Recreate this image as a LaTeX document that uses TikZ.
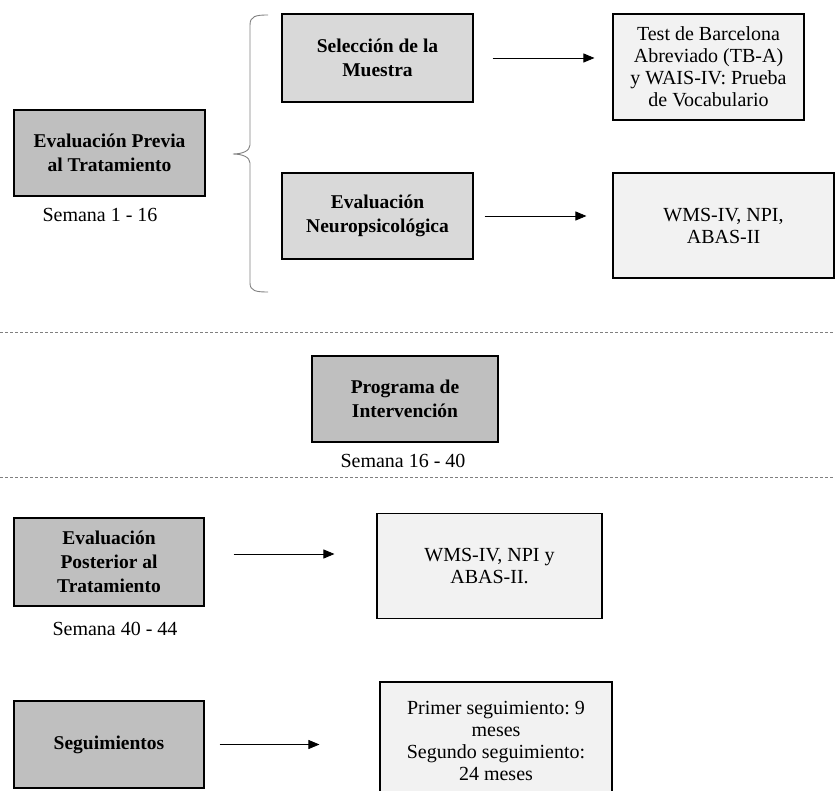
\documentclass[tikz,border=0pt]{standalone}
\usepackage{fontspec}
\setmainfont{Liberation Serif}
\usetikzlibrary{arrows.meta, positioning}
\definecolor{phasegray}{RGB}{191,191,191}
\definecolor{stepgray}{RGB}{217,217,217}
\definecolor{testgray}{RGB}{242,242,242}
\definecolor{bracegray}{RGB}{128,128,128}
\frenchspacing

\begin{document}
\begin{tikzpicture}[x=1pt, y=-1pt,
every node/.style={align=center, font=\fontsize{20}{22}\selectfont}, >={Triangle[length=11pt, width=9pt]},
phase/.style={rectangle, draw=black, line width=1.3pt, fill=phasegray, font=\fontsize{19.5}{24}\selectfont\bfseries, inner sep=0pt},
stage/.style={rectangle, draw=black, line width=1.3pt, fill=stepgray, font=\fontsize{19.5}{24}\selectfont\bfseries, inner sep=0pt},
tests/.style={rectangle, draw=black, line width=1.1pt, fill=testgray, inner sep=0pt},
link/.style={->, line width=0.8pt}]

  \useasboundingbox (0,0) rectangle (835,791);

  % Phases
  \node[phase, minimum width=191pt, minimum height=86pt] (pre) at (109.5,153) {Evaluación Previa\\al Tratamiento};
  \node (sem1) at (100,215) {Semana 1 - 16};

  \node[phase, minimum width=186pt, minimum height=86pt] (prog) at (405,399) {Programa de\\Intervención};
  \node (sem2) at (403,461) {Semana 16 - 40};

  \node[phase, minimum width=190pt, minimum height=88pt] (post) at (109,562) {Evaluación\\Posterior al\\Tratamiento};
  \node (sem3) at (115,629) {Semana 40 - 44};

  \node[phase, minimum width=190pt, minimum height=87pt] (seg) at (109,744.5) {Seguimientos};

  % Steps of the first phase
  \node[stage, minimum width=191pt, minimum height=88pt] (sel) at (377.5,58) {Selección de la\\Muestra};
  \node[stage, minimum width=191pt, minimum height=86pt] (neuro) at (377.5,216) {Evaluación\\Neuropsicológica};

  % Instruments
  \node[tests, minimum width=191pt, minimum height=106pt] (tba) at (708.5,67) {Test de Barcelona\\Abreviado (TB-A)\\y WAIS-IV: Prueba\\de Vocabulario};
  \node[tests, minimum width=221pt, minimum height=105pt] (wms1) at (723.5,225.5) {WMS-IV, NPI,\\ABAS-II};
  \node[tests, minimum width=225pt, minimum height=105pt] (wms2) at (489.5,566) {WMS-IV, NPI y\\ABAS-II.};
  \node[tests, minimum width=232pt, minimum height=118pt] (fol) at (496,741) {Primer seguimiento: 9\\meses\\Segundo seguimiento:\\24 meses};

  % Brace
  \draw[bracegray, line width=0.9pt] (268,15) .. controls (256,15) and (250,16) .. (250,25) -- (250,145)
    .. controls (250,151) and (242,154) .. (233,154) .. controls (242,154) and (250,157) .. (250,163)
    -- (250,283) .. controls (250,291) and (256,292) .. (268,292);

  % Separators
  \draw[bracegray, dash pattern=on 3pt off 2pt] (0,332) -- (835,332);
  \draw[bracegray, dash pattern=on 3pt off 2pt] (0,477) -- (835,477);

  \draw[link, shorten <=19pt, shorten >=18pt] (sel.east) -- (sel.east -| tba.west);
  \draw[link, shorten <=11pt, shorten >=26pt] (neuro.east) -- (neuro.east -| wms1.west);
  \draw[link, shorten <=29pt, shorten >=42pt] ([yshift=8pt]post.east) -- ([yshift=8pt]post.east -| wms2.west);
  \draw[link, shorten <=15pt, shorten >=60pt] (seg.east) -- (seg.east -| fol.west);

\end{tikzpicture}
\end{document}
